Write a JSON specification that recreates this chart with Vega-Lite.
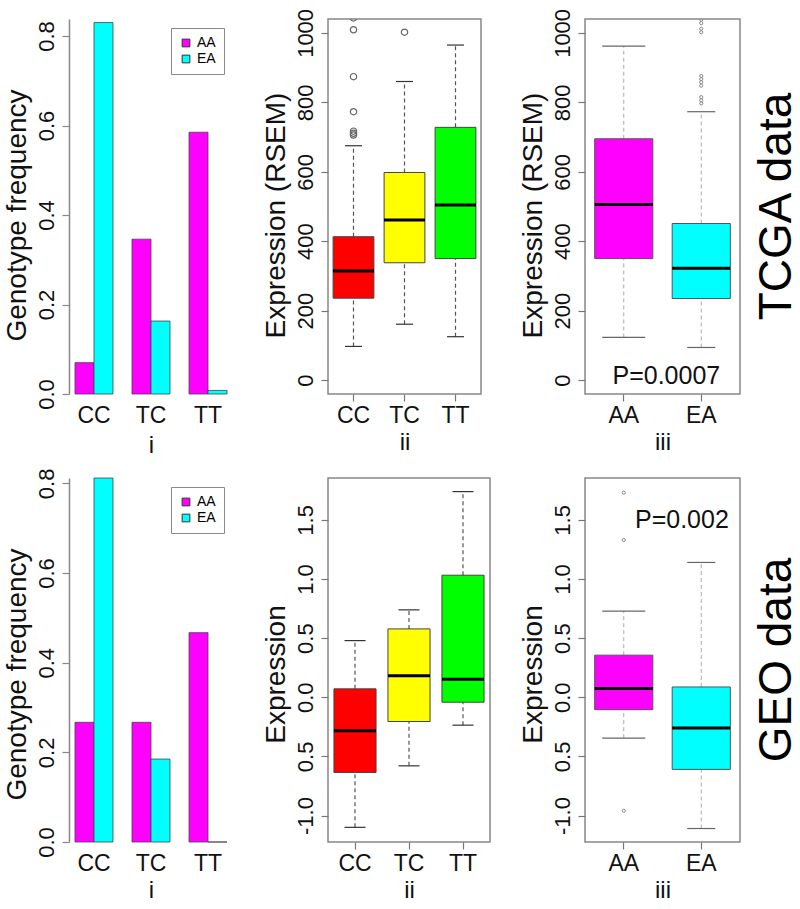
{
  "$schema": "https://vega.github.io/schema/vega-lite/v6.json",
  "background": "white",
  "padding": {"left": 3, "top": 7, "right": 0, "bottom": 0},
  "autosize": {"type": "pad"},
  "config": {
    "font": "Liberation Sans",
    "view": {"stroke": null},
    "axis": {"grid": false, "labelColor": "#111", "titleColor": "#111", "titleFontWeight": "normal"},
    "axisY": {"titleY": 196}
  },
  "datasets": {
    "freq_tcga": [
      {"genotype": "CC", "group": "AA", "freq": 0.07},
      {"genotype": "CC", "group": "EA", "freq": 0.83},
      {"genotype": "TC", "group": "AA", "freq": 0.346},
      {"genotype": "TC", "group": "EA", "freq": 0.163},
      {"genotype": "TT", "group": "AA", "freq": 0.585},
      {"genotype": "TT", "group": "EA", "freq": 0.008}
    ],
    "freq_geo": [
      {"genotype": "CC", "group": "AA", "freq": 0.267},
      {"genotype": "CC", "group": "EA", "freq": 0.812},
      {"genotype": "TC", "group": "AA", "freq": 0.267},
      {"genotype": "TC", "group": "EA", "freq": 0.185},
      {"genotype": "TT", "group": "AA", "freq": 0.467},
      {"genotype": "TT", "group": "EA", "freq": 0}
    ],
    "box_tcga_geno": [
      {"genotype": "CC", "lower": 97, "q1": 236, "median": 314, "q3": 413, "upper": 675},
      {"genotype": "TC", "lower": 161, "q1": 338, "median": 461, "q3": 598, "upper": 860},
      {"genotype": "TT", "lower": 125, "q1": 350, "median": 504, "q3": 728, "upper": 965}
    ],
    "out_tcga_geno": [
      {"genotype": "CC", "value": 706},
      {"genotype": "CC", "value": 711},
      {"genotype": "CC", "value": 717},
      {"genotype": "CC", "value": 773},
      {"genotype": "CC", "value": 874},
      {"genotype": "CC", "value": 1009},
      {"genotype": "CC", "value": 1043},
      {"genotype": "TC", "value": 1002}
    ],
    "box_tcga_race": [
      {"race": "AA", "lower": 123, "q1": 350, "median": 506, "q3": 695, "upper": 962},
      {"race": "EA", "lower": 94, "q1": 235, "median": 322, "q3": 451, "upper": 773}
    ],
    "out_tcga_race": [
      {"race": "EA", "value": 797},
      {"race": "EA", "value": 806},
      {"race": "EA", "value": 815},
      {"race": "EA", "value": 848},
      {"race": "EA", "value": 858},
      {"race": "EA", "value": 867},
      {"race": "EA", "value": 876},
      {"race": "EA", "value": 1002},
      {"race": "EA", "value": 1012},
      {"race": "EA", "value": 1028},
      {"race": "EA", "value": 1038}
    ],
    "box_geo_geno": [
      {"genotype": "CC", "lower": -1.10, "q1": -0.636, "median": -0.284, "q3": 0.071, "upper": 0.479},
      {"genotype": "TC", "lower": -0.58, "q1": -0.205, "median": 0.181, "q3": 0.578, "upper": 0.739},
      {"genotype": "TT", "lower": -0.236, "q1": -0.042, "median": 0.153, "q3": 1.032, "upper": 1.739}
    ],
    "box_geo_race": [
      {"race": "AA", "lower": -0.345, "q1": -0.105, "median": 0.073, "q3": 0.356, "upper": 0.729},
      {"race": "EA", "lower": -1.11, "q1": -0.61, "median": -0.26, "q3": 0.087, "upper": 1.14}
    ],
    "out_geo_race": [
      {"race": "AA", "value": 1.73},
      {"race": "AA", "value": 1.33},
      {"race": "AA", "value": -0.96}
    ],
    "annot_tcga": [{"race": "EA", "label": "P=0.0007", "value": 13}],
    "annot_geo": [{"race": "EA", "label": "P=0.002", "value": 1.5}]
  },
  "columns": 3,
  "bounds": "flush",
  "align": "each",
  "spacing": {"row": 84, "column": 95},
  "resolve": {
    "scale": {"x": "independent", "y": "independent", "fill": "independent", "color": "independent", "xOffset": "independent", "size": "independent"},
    "axis": {"x": "independent", "y": "independent"},
    "legend": {"color": "independent", "fill": "independent", "size": "independent"}
  },
  "concat": [
    {
      "width": 164, "height": 375,
      "data": {"name": "freq_tcga"},
      "mark": {"type": "bar", "stroke": "#444", "strokeWidth": 0.8},
      "encoding": {
        "x": {"field": "genotype", "type": "nominal", "title": "i",
          "scale": {"domain": ["CC", "TC", "TT"], "paddingInner": 0.3333, "paddingOuter": 0.105},
          "axis": {"domain": false, "ticks": false, "labelAngle": 0, "labelFontSize": 23, "labelPadding": 10, "titleFontSize": 24, "titlePadding": 6}},
        "xOffset": {"field": "group", "type": "nominal", "scale": {"domain": ["AA", "EA"], "paddingInner": 0, "paddingOuter": 0}},
        "y": {"field": "freq", "type": "quantitative", "title": "Genotype frequency",
          "scale": {"domain": [0, 0.838], "nice": false},
          "axis": {"values": [0, 0.2, 0.4, 0.6, 0.8], "format": ".1f", "domain": true, "domainColor": "#888", "domainWidth": 1.5, "tickColor": "#888", "tickSize": 7, "tickWidth": 1.2, "labelAngle": -90, "labelAlign": "center", "labelBaseline": "alphabetic", "labelFontSize": 22, "labelPadding": 9, "titleFontSize": 28, "titlePadding": 4}},
        "color": {"field": "group", "type": "nominal",
          "scale": {"domain": ["AA", "EA"], "range": ["#ff00ff", "#00ffff"]},
          "legend": {"title": null, "orient": "top-right", "offset": 9, "strokeColor": "#888", "fillColor": "white", "padding": 8, "symbolType": "square", "symbolSize": 60, "symbolStrokeColor": "#333", "symbolStrokeWidth": 1, "labelFontSize": 14, "rowPadding": 2}}
      }
    },
    {
      "width": 153, "height": 375,
      "view": {"stroke": "#888", "strokeWidth": 1.5},
      "encoding": {
        "x": {"field": "genotype", "type": "nominal", "title": "ii",
          "scale": {"domain": ["CC", "TC", "TT"], "paddingInner": 0, "paddingOuter": 0},
          "axis": {"domain": false, "tickColor": "#777", "tickSize": 7, "tickWidth": 1.2, "labelAngle": 0, "labelFontSize": 23, "labelPadding": 3, "titleFontSize": 24, "titlePadding": 3}}
      },
      "layer": [
        {"data": {"name": "box_tcga_geno"},
         "mark": {"type": "rule", "strokeDash": [4, 3], "color": "#555", "strokeWidth": 1.2},
         "encoding": {
           "y": {"field": "lower", "type": "quantitative", "title": "Expression (RSEM)",
             "scale": {"domain": [-40, 1040], "nice": false, "zero": false},
             "axis": {"values": [0, 200, 400, 600, 800, 1000], "format": "d", "domain": false, "tickColor": "#777", "tickSize": 7, "tickWidth": 1.2, "labelAngle": -90, "labelAlign": "center", "labelBaseline": "alphabetic", "labelFontSize": 22, "labelPadding": 9, "titleFontSize": 28, "titlePadding": 4}},
           "y2": {"field": "q1"}}},
        {"data": {"name": "box_tcga_geno"},
         "mark": {"type": "rule", "strokeDash": [4, 3], "color": "#555", "strokeWidth": 1.2},
         "encoding": {"y": {"field": "q3", "type": "quantitative", "title": "Expression (RSEM)"}, "y2": {"field": "upper"}}},
        {"data": {"name": "box_tcga_geno"},
         "mark": {"type": "bar", "width": {"band": 0.8}, "stroke": "#444", "strokeWidth": 1},
         "encoding": {
           "y": {"field": "q1", "type": "quantitative", "title": "Expression (RSEM)"}, "y2": {"field": "q3"},
           "fill": {"field": "genotype", "type": "nominal", "scale": {"domain": ["CC", "TC", "TT"], "range": ["#ff0000", "#ffff00", "#00ff00"]}, "legend": null}}},
        {"data": {"name": "box_tcga_geno"},
         "mark": {"type": "tick", "size": 41, "thickness": 3, "color": "#000", "opacity": 1},
         "encoding": {"y": {"field": "median", "type": "quantitative", "title": "Expression (RSEM)"}}},
        {"data": {"name": "box_tcga_geno"},
         "mark": {"type": "tick", "size": 17, "thickness": 1.2, "color": "#333", "opacity": 1},
         "encoding": {"y": {"field": "lower", "type": "quantitative", "title": "Expression (RSEM)"}}},
        {"data": {"name": "box_tcga_geno"},
         "mark": {"type": "tick", "size": 17, "thickness": 1.2, "color": "#333", "opacity": 1},
         "encoding": {"y": {"field": "upper", "type": "quantitative", "title": "Expression (RSEM)"}}},
        {"data": {"name": "out_tcga_geno"},
         "mark": {"type": "point", "shape": "circle", "filled": false, "size": 40, "color": "#666", "strokeWidth": 1.2, "clip": true, "opacity": 1},
         "encoding": {"y": {"field": "value", "type": "quantitative", "title": "Expression (RSEM)"}}}
      ]
    },
    {
      "width": 155, "height": 375,
      "view": {"stroke": "#888", "strokeWidth": 1.5},
      "title": {"text": "TCGA data", "orient": "right", "angle": 270, "baseline": "bottom", "fontSize": 46, "fontWeight": "normal", "offset": 15, "color": "#000"},
      "encoding": {
        "x": {"field": "race", "type": "nominal", "title": "iii",
          "scale": {"domain": ["AA", "EA"], "paddingInner": 0, "paddingOuter": 0},
          "axis": {"domain": false, "tickColor": "#777", "tickSize": 7, "tickWidth": 1.2, "labelAngle": 0, "labelFontSize": 23, "labelPadding": 3, "titleFontSize": 24, "titlePadding": 3}}
      },
      "layer": [
        {"data": {"name": "box_tcga_race"},
         "mark": {"type": "rule", "strokeDash": [4, 3], "color": "#aaa", "strokeWidth": 1},
         "encoding": {
           "y": {"field": "lower", "type": "quantitative", "title": "Expression (RSEM)",
             "scale": {"domain": [-40, 1040], "nice": false, "zero": false},
             "axis": {"values": [0, 200, 400, 600, 800, 1000], "format": "d", "domain": false, "tickColor": "#777", "tickSize": 7, "tickWidth": 1.2, "labelAngle": -90, "labelAlign": "center", "labelBaseline": "alphabetic", "labelFontSize": 22, "labelPadding": 9, "titleFontSize": 28, "titlePadding": 4}},
           "y2": {"field": "q1"}}},
        {"data": {"name": "box_tcga_race"},
         "mark": {"type": "rule", "strokeDash": [4, 3], "color": "#aaa", "strokeWidth": 1},
         "encoding": {"y": {"field": "q3", "type": "quantitative", "title": "Expression (RSEM)"}, "y2": {"field": "upper"}}},
        {"data": {"name": "box_tcga_race"},
         "mark": {"type": "bar", "width": {"band": 0.75}, "stroke": "#555", "strokeWidth": 1},
         "encoding": {
           "y": {"field": "q1", "type": "quantitative", "title": "Expression (RSEM)"}, "y2": {"field": "q3"},
           "fill": {"field": "race", "type": "nominal", "scale": {"domain": ["AA", "EA"], "range": ["#ff00ff", "#00ffff"]}, "legend": null}}},
        {"data": {"name": "box_tcga_race"},
         "mark": {"type": "tick", "size": 58, "thickness": 3, "color": "#000", "opacity": 1},
         "encoding": {"y": {"field": "median", "type": "quantitative", "title": "Expression (RSEM)"}}},
        {"data": {"name": "box_tcga_race"},
         "mark": {"type": "tick", "thickness": 1.2, "color": "#666", "opacity": 1},
         "encoding": {"y": {"field": "lower", "type": "quantitative", "title": "Expression (RSEM)"},
           "size": {"field": "race", "type": "nominal", "scale": {"domain": ["AA", "EA"], "range": [43, 28]}, "legend": null}}},
        {"data": {"name": "box_tcga_race"},
         "mark": {"type": "tick", "thickness": 1.2, "color": "#666", "opacity": 1},
         "encoding": {"y": {"field": "upper", "type": "quantitative", "title": "Expression (RSEM)"},
           "size": {"field": "race", "type": "nominal", "scale": {"domain": ["AA", "EA"], "range": [43, 28]}, "legend": null}}},
        {"data": {"name": "out_tcga_race"},
         "mark": {"type": "point", "shape": "circle", "filled": false, "size": 10, "color": "#888", "strokeWidth": 1, "clip": true, "opacity": 1},
         "encoding": {"y": {"field": "value", "type": "quantitative", "title": "Expression (RSEM)"}}},
        {"data": {"name": "annot_tcga"},
         "mark": {"type": "text", "fontSize": 25, "color": "#111", "align": "center", "baseline": "middle"},
         "encoding": {"x": {"field": "race", "type": "nominal", "bandPosition": 0.05}, "y": {"field": "value", "type": "quantitative", "title": "Expression (RSEM)"}, "text": {"field": "label"}}}
      ]
    },
    {
      "width": 164, "height": 364,
      "data": {"name": "freq_geo"},
      "mark": {"type": "bar", "stroke": "#444", "strokeWidth": 0.8},
      "encoding": {
        "x": {"field": "genotype", "type": "nominal", "title": "i",
          "scale": {"domain": ["CC", "TC", "TT"], "paddingInner": 0.3333, "paddingOuter": 0.105},
          "axis": {"domain": false, "ticks": false, "labelAngle": 0, "labelFontSize": 23, "labelPadding": 10, "titleFontSize": 24, "titlePadding": 3}},
        "xOffset": {"field": "group", "type": "nominal", "scale": {"domain": ["AA", "EA"], "paddingInner": 0, "paddingOuter": 0}},
        "y": {"field": "freq", "type": "quantitative", "title": "Genotype frequency",
          "scale": {"domain": [0, 0.812], "nice": false},
          "axis": {"values": [0, 0.2, 0.4, 0.6, 0.8], "format": ".1f", "domain": true, "domainColor": "#888", "domainWidth": 1.5, "tickColor": "#888", "tickSize": 7, "tickWidth": 1.2, "labelAngle": -90, "labelAlign": "center", "labelBaseline": "alphabetic", "labelFontSize": 22, "labelPadding": 9, "titleFontSize": 28, "titlePadding": 4}},
        "color": {"field": "group", "type": "nominal",
          "scale": {"domain": ["AA", "EA"], "range": ["#ff00ff", "#00ffff"]},
          "legend": {"title": null, "orient": "top-right", "offset": 9, "strokeColor": "#888", "fillColor": "white", "padding": 8, "symbolType": "square", "symbolSize": 60, "symbolStrokeColor": "#333", "symbolStrokeWidth": 1, "labelFontSize": 14, "rowPadding": 2}}
      }
    },
    {
      "width": 162, "height": 364,
      "view": {"stroke": "#888", "strokeWidth": 1.5},
      "encoding": {
        "x": {"field": "genotype", "type": "nominal", "title": "ii",
          "scale": {"domain": ["CC", "TC", "TT"], "paddingInner": 0, "paddingOuter": 0},
          "axis": {"domain": false, "tickColor": "#777", "tickSize": 7, "tickWidth": 1.2, "labelAngle": 0, "labelFontSize": 23, "labelPadding": 3, "titleFontSize": 24, "titlePadding": 3}}
      },
      "layer": [
        {"data": {"name": "box_geo_geno"},
         "mark": {"type": "rule", "strokeDash": [4, 3], "color": "#555", "strokeWidth": 1.2},
         "encoding": {
           "y": {"field": "lower", "type": "quantitative", "title": "Expression",
             "scale": {"domain": [-1.224, 1.854], "nice": false, "zero": false},
             "axis": {"values": [-1, -0.5, 0, 0.5, 1, 1.5], "labelExpr": "datum.value < -0.75 ? '-1.0' : format(abs(datum.value), '.1f')", "domain": false, "tickColor": "#777", "tickSize": 7, "tickWidth": 1.2, "labelAngle": -90, "labelAlign": "center", "labelBaseline": "alphabetic", "labelFontSize": 22, "labelPadding": 9, "titleFontSize": 28, "titlePadding": 4}},
           "y2": {"field": "q1"}}},
        {"data": {"name": "box_geo_geno"},
         "mark": {"type": "rule", "strokeDash": [4, 3], "color": "#555", "strokeWidth": 1.2},
         "encoding": {"y": {"field": "q3", "type": "quantitative", "title": "Expression"}, "y2": {"field": "upper"}}},
        {"data": {"name": "box_geo_geno"},
         "mark": {"type": "bar", "width": {"band": 0.78}, "stroke": "#444", "strokeWidth": 1},
         "encoding": {
           "y": {"field": "q1", "type": "quantitative", "title": "Expression"}, "y2": {"field": "q3"},
           "fill": {"field": "genotype", "type": "nominal", "scale": {"domain": ["CC", "TC", "TT"], "range": ["#ff0000", "#ffff00", "#00ff00"]}, "legend": null}}},
        {"data": {"name": "box_geo_geno"},
         "mark": {"type": "tick", "size": 42, "thickness": 3, "color": "#000", "opacity": 1},
         "encoding": {"y": {"field": "median", "type": "quantitative", "title": "Expression"}}},
        {"data": {"name": "box_geo_geno"},
         "mark": {"type": "tick", "size": 21, "thickness": 1.2, "color": "#333", "opacity": 1},
         "encoding": {"y": {"field": "lower", "type": "quantitative", "title": "Expression"}}},
        {"data": {"name": "box_geo_geno"},
         "mark": {"type": "tick", "size": 21, "thickness": 1.2, "color": "#333", "opacity": 1},
         "encoding": {"y": {"field": "upper", "type": "quantitative", "title": "Expression"}}}
      ]
    },
    {
      "width": 155, "height": 364,
      "view": {"stroke": "#888", "strokeWidth": 1.5},
      "title": {"text": "GEO data", "orient": "right", "angle": 270, "baseline": "bottom", "fontSize": 46, "fontWeight": "normal", "offset": 15, "color": "#000"},
      "encoding": {
        "x": {"field": "race", "type": "nominal", "title": "iii",
          "scale": {"domain": ["AA", "EA"], "paddingInner": 0, "paddingOuter": 0},
          "axis": {"domain": false, "tickColor": "#777", "tickSize": 7, "tickWidth": 1.2, "labelAngle": 0, "labelFontSize": 23, "labelPadding": 3, "titleFontSize": 24, "titlePadding": 3}}
      },
      "layer": [
        {"data": {"name": "box_geo_race"},
         "mark": {"type": "rule", "strokeDash": [4, 3], "color": "#aaa", "strokeWidth": 1},
         "encoding": {
           "y": {"field": "lower", "type": "quantitative", "title": "Expression",
             "scale": {"domain": [-1.224, 1.854], "nice": false, "zero": false},
             "axis": {"values": [-1, -0.5, 0, 0.5, 1, 1.5], "labelExpr": "datum.value < -0.75 ? '-1.0' : format(abs(datum.value), '.1f')", "domain": false, "tickColor": "#777", "tickSize": 7, "tickWidth": 1.2, "labelAngle": -90, "labelAlign": "center", "labelBaseline": "alphabetic", "labelFontSize": 22, "labelPadding": 9, "titleFontSize": 28, "titlePadding": 4}},
           "y2": {"field": "q1"}}},
        {"data": {"name": "box_geo_race"},
         "mark": {"type": "rule", "strokeDash": [4, 3], "color": "#aaa", "strokeWidth": 1},
         "encoding": {"y": {"field": "q3", "type": "quantitative", "title": "Expression"}, "y2": {"field": "upper"}}},
        {"data": {"name": "box_geo_race"},
         "mark": {"type": "bar", "width": {"band": 0.75}, "stroke": "#555", "strokeWidth": 1},
         "encoding": {
           "y": {"field": "q1", "type": "quantitative", "title": "Expression"}, "y2": {"field": "q3"},
           "fill": {"field": "race", "type": "nominal", "scale": {"domain": ["AA", "EA"], "range": ["#ff00ff", "#00ffff"]}, "legend": null}}},
        {"data": {"name": "box_geo_race"},
         "mark": {"type": "tick", "size": 58, "thickness": 3, "color": "#000", "opacity": 1},
         "encoding": {"y": {"field": "median", "type": "quantitative", "title": "Expression"}}},
        {"data": {"name": "box_geo_race"},
         "mark": {"type": "tick", "thickness": 1.2, "color": "#666", "opacity": 1},
         "encoding": {"y": {"field": "lower", "type": "quantitative", "title": "Expression"},
           "size": {"field": "race", "type": "nominal", "scale": {"domain": ["AA", "EA"], "range": [43, 28]}, "legend": null}}},
        {"data": {"name": "box_geo_race"},
         "mark": {"type": "tick", "thickness": 1.2, "color": "#666", "opacity": 1},
         "encoding": {"y": {"field": "upper", "type": "quantitative", "title": "Expression"},
           "size": {"field": "race", "type": "nominal", "scale": {"domain": ["AA", "EA"], "range": [43, 28]}, "legend": null}}},
        {"data": {"name": "out_geo_race"},
         "mark": {"type": "point", "shape": "circle", "filled": false, "size": 10, "color": "#888", "strokeWidth": 1, "clip": true, "opacity": 1},
         "encoding": {"y": {"field": "value", "type": "quantitative", "title": "Expression"}}},
        {"data": {"name": "annot_geo"},
         "mark": {"type": "text", "fontSize": 25, "color": "#111", "align": "center", "baseline": "middle"},
         "encoding": {"x": {"field": "race", "type": "nominal", "bandPosition": 0.25}, "y": {"field": "value", "type": "quantitative", "title": "Expression"}, "text": {"field": "label"}}}
      ]
    }
  ]
}
